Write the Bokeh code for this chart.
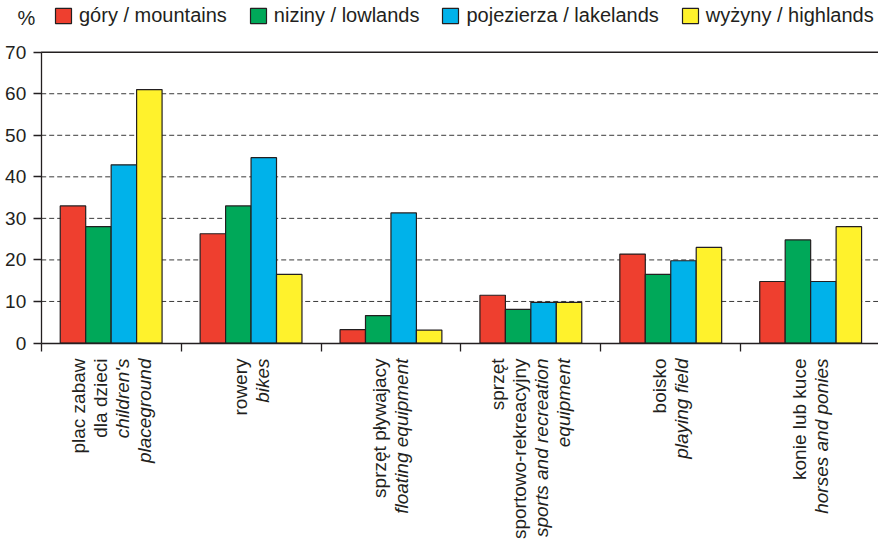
import math
from bokeh.plotting import figure
from bokeh.models import (ColumnDataSource, FixedTicker, Range1d, Legend,
                          LegendItem, LabelSet, Label, LinearAxis)
from bokeh.core.properties import value
from bokeh.transform import dodge
from bokeh.embed import file_html
from bokeh.resources import INLINE

# ---- data ----
labels_pl = [["plac zabaw", "dla dzieci"], ["rowery"], ["sprzęt pływajacy"],
             ["sprzęt", "sportowo-rekreacyjny"], ["boisko"], ["konie lub kuce"]]
labels_en = [["children's", "placeground"], ["bikes"], ["floating equipment"],
             ["sports and recreation", "equipment"], ["playing field"],
             ["horses and ponies"]]
series_names = ["góry / mountains", "niziny / lowlands",
                "pojezierza / lakelands", "wyżyny / highlands"]
gory = [33.0, 26.3, 3.2, 11.5, 21.4, 14.8]
niziny = [28.0, 33.0, 6.6, 8.1, 16.5, 24.8]
pojezierza = [42.9, 44.6, 31.3, 9.8, 19.8, 14.8]
wyzyny = [61.0, 16.5, 3.1, 9.8, 23.0, 28.0]
y_ticks = [0, 10, 20, 30, 40, 50, 60, 70]
unit_label = "%"

# ---- style / layout ----
FONT = "Liberation Sans"
INK = "#231f20"
colors = ["#ee3f2f", "#00a859", "#00b2ea", "#fff22c"]
W, H = 878, 547
X0_PX, PX_X = 40.7, 139.9          # screen x of group 0 boundary, px per group
Y0_PX, Y70_PX = 342.5, 51.7        # screen y (from top) of 0 and 70
PX_Y = (Y0_PX - Y70_PX) / 70.0

n = len(gory)
x_start = -X0_PX / PX_X
x_end = (W - X0_PX) / PX_X
y_end = 70 + Y70_PX / PX_Y
y_start = -(H - Y0_PX) / PX_Y

centers = [i + 0.5 for i in range(n)]
src = ColumnDataSource(dict(x=centers, gory=gory, niziny=niziny,
                            pojezierza=pojezierza, wyzyny=wyzyny))

p = figure(width=W, height=H, x_range=Range1d(x_start, x_end),
           y_range=Range1d(y_start, y_end), x_axis_type=None, y_axis_type=None,
           output_backend="svg", toolbar_location=None,
           min_border_left=0, min_border_right=0, min_border_top=0,
           min_border_bottom=0)
p.outline_line_color = None
p.background_fill_color = "white"
p.border_fill_color = "white"
p.grid.visible = False

# horizontal grid lines starting at the y axis (dashed 10..60, solid at 70)
dash_ticks = [t for t in y_ticks if 0 < t < y_ticks[-1]]
p.segment(x0=[0] * len(dash_ticks), x1=[x_end] * len(dash_ticks),
          y0=dash_ticks, y1=dash_ticks, line_color="#3a3a3a",
          line_dash="5 3", line_width=1)
p.segment(x0=[0], x1=[x_end], y0=[y_ticks[-1]], y1=[y_ticks[-1]],
          line_color=INK, line_width=1.5)

bw = 0.182
keys = ["gory", "niziny", "pojezierza", "wyzyny"]
rends = []
for k, (key, c) in enumerate(zip(keys, colors)):
    r = p.vbar(x=dodge("x", (k - 1.5) * bw), top=key, bottom=0, width=bw,
               source=src, fill_color=c, line_color=INK, line_width=1.2)
    rends.append(r)

# y axis
ya = LinearAxis(fixed_location=0, bounds=(0, 70),
                ticker=FixedTicker(ticks=y_ticks),
                major_tick_out=8, major_tick_in=0, minor_tick_line_color=None,
                major_label_standoff=7, major_label_text_font=FONT,
                major_label_text_font_size="19px", major_label_text_color=INK,
                axis_line_color=INK, axis_line_width=1.3,
                major_tick_line_color=INK, major_tick_line_width=1.3)
p.add_layout(ya, "left")

# x axis (boundary ticks only, no labels)
xa = LinearAxis(fixed_location=0, bounds=(0, n),
                ticker=FixedTicker(ticks=[], minor_ticks=list(range(n + 1))),
                major_tick_line_color=None, minor_tick_out=8, minor_tick_in=0,
                minor_tick_line_color=INK, minor_tick_line_width=1.3,
                axis_line_color=INK, axis_line_width=1.3)
p.add_layout(xa, "below")

# category labels (rotated, one column per line)
line_sp = 22.0 / PX_X
y_lab = -15.5 / PX_Y
pl_x, pl_t, en_x, en_t = [], [], [], []
for g in range(n):
    lines = [(t, "pl") for t in labels_pl[g]] + [(t, "en") for t in labels_en[g]]
    m = len(lines)
    for i, (t, lang) in enumerate(lines):
        xx = centers[g] + (i - (m - 1) / 2) * line_sp
        if lang == "pl":
            pl_x.append(xx); pl_t.append(t)
        else:
            en_x.append(xx); en_t.append(t)

for xs, ts, style in [(pl_x, pl_t, "normal"), (en_x, en_t, "italic")]:
    ls = LabelSet(x="x", y="y", text="t",
                  source=ColumnDataSource(dict(x=xs, y=[y_lab] * len(xs), t=ts)),
                  angle=math.pi / 2, text_align="right", text_baseline="middle",
                  text_font=value(FONT), text_font_size=value("19px"),
                  text_font_style=value(style), text_color=INK)
    p.add_layout(ls)

# legend
legend = Legend(items=[LegendItem(label=nm, renderers=[r])
                       for nm, r in zip(series_names, rends)],
                orientation="horizontal", location=(53, H - 27),
                glyph_width=20, glyph_height=19, label_height=19,
                label_standoff=6, spacing=21, padding=0, margin=0,
                border_line_color=None, background_fill_alpha=0,
                label_text_font=FONT, label_text_font_size="20px",
                label_text_color=INK)
p.add_layout(legend)

p.add_layout(Label(x=17, y=H - 17.5, x_units="screen", y_units="screen",
                   text=unit_label, text_font=FONT, text_font_size="20px",
                   text_color=INK, text_baseline="middle"))

open("out.html", "w").write(file_html(p, INLINE))
